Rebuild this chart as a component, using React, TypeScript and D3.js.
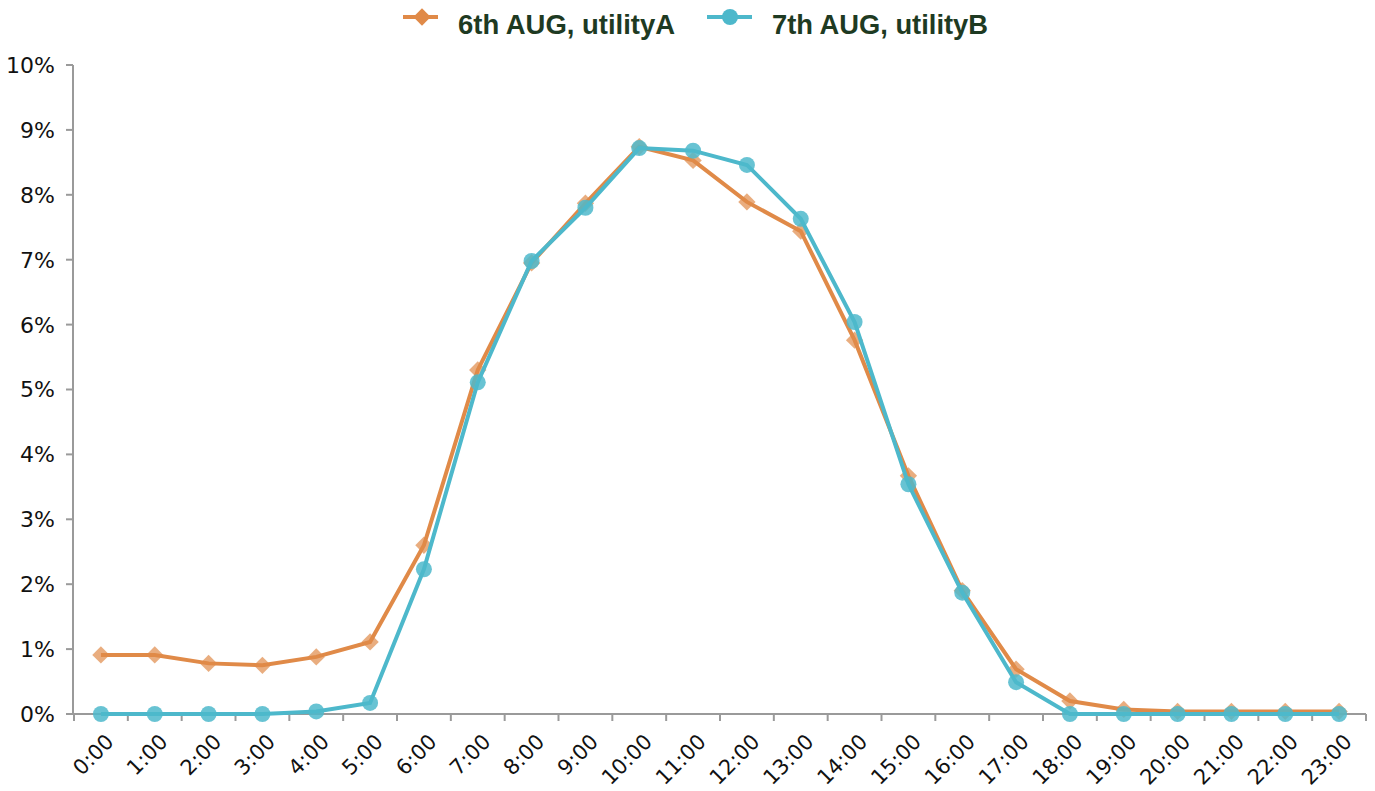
import React from "react";
import * as d3 from "d3";

const hours = ["0:00","1:00","2:00","3:00","4:00","5:00","6:00","7:00","8:00","9:00","10:00","11:00","12:00","13:00","14:00","15:00","16:00","17:00","18:00","19:00","20:00","21:00","22:00","23:00"];
const utilityA = [0.91,0.91,0.78,0.75,0.88,1.11,2.6,5.3,6.95,7.87,8.74,8.53,7.89,7.44,5.76,3.67,1.9,0.69,0.2,0.07,0.04,0.04,0.04,0.04];
const utilityB = [0,0,0,0,0.04,0.17,2.23,5.11,6.98,7.8,8.72,8.68,8.46,7.63,6.04,3.54,1.87,0.49,0,0,0,0,0,0];
const yTicks = [0,1,2,3,4,5,6,7,8,9,10];
const seriesNames = ["6th AUG, utilityA", "7th AUG, utilityB"];

const W = 1375, H = 791;
const left = 74, right = 1366, top = 65, bottom = 714;
const orange = "#E08A48";
const blue = "#4DB8CB";

export default function App() {
  const x = d3.scaleBand<string>().domain(hours).range([left, right]);
  const y = d3.scaleLinear().domain([0, 10]).range([bottom, top]);
  const cx = (h: string) => (x(h) as number) + x.bandwidth() / 2;
  const line = d3.line<number>().x((_, i) => cx(hours[i])).y((v) => y(v));
  const diamond = d3.symbol().type(d3.symbolSquare).size(150)();
  const legDiamond = d3.symbol().type(d3.symbolSquare).size(150)();
  const tickFont = "'DejaVu Sans', sans-serif";
  return (
    <svg width={W} height={H} style={{ position: "absolute", left: 0, top: 0, background: "#fff" }}>
      {/* y axis */}
      <line x1={73} x2={73} y1={top} y2={bottom} stroke="#9a9a9a" strokeWidth={2} />
      {yTicks.map((t) => (
        <g key={t}>
          <line x1={66} x2={73} y1={y(t)} y2={y(t)} stroke="#9a9a9a" strokeWidth={2} />
          <text x={55} y={y(t)} dy="0.36em" textAnchor="end" fontFamily={tickFont} fontSize={22} fill="#111">{t}%</text>
        </g>
      ))}
      {/* x axis */}
      <line x1={73} x2={right} y1={bottom} y2={bottom} stroke="#9a9a9a" strokeWidth={2} />
      {hours.map((h) => (
        <line key={"t" + h} x1={x(h) as number} x2={x(h) as number} y1={bottom} y2={bottom + 7} stroke="#9a9a9a" strokeWidth={2} />
      ))}
      <line x1={right} x2={right} y1={bottom} y2={bottom + 7} stroke="#9a9a9a" strokeWidth={2} />
      {hours.map((h) => (
        <text key={"l" + h} transform={`translate(${cx(h) + 3},${bottom + 18}) rotate(-45)`} textAnchor="end" dy="0.75em" fontFamily={tickFont} fontSize={21} fill="#111">{h}</text>
      ))}
      {/* series A */}
      <path d={line(utilityA) || ""} fill="none" stroke={orange} strokeWidth={4} />
      {utilityA.map((v, i) => (
        <path key={"a" + i} d={diamond || ""} transform={`translate(${cx(hours[i])},${y(v)}) rotate(45)`} fill={orange} fillOpacity={0.7} />
      ))}
      {/* series B */}
      <path d={line(utilityB) || ""} fill="none" stroke={blue} strokeWidth={4} />
      {utilityB.map((v, i) => (
        <circle key={"b" + i} cx={cx(hours[i])} cy={y(v)} r={8} fill={blue} fillOpacity={0.85} />
      ))}
      {/* legend */}
      <g fontFamily="'Liberation Sans', Arial, sans-serif" fontWeight="bold" fontSize={28} fill="#1E3A22">
        <line x1={403} x2={438} y1={17} y2={17} stroke={orange} strokeWidth={4} />
        <path d={legDiamond || ""} transform="translate(422,17) rotate(45)" fill={orange} />
        <text x={458} y={34} textLength={217} lengthAdjust="spacingAndGlyphs">{seriesNames[0]}</text>
        <line x1={707} x2={752} y1={17} y2={17} stroke={blue} strokeWidth={4} />
        <circle cx={730} cy={17} r={8} fill={blue} />
        <text x={772} y={34} textLength={216} lengthAdjust="spacingAndGlyphs">{seriesNames[1]}</text>
      </g>
    </svg>
  );
}
